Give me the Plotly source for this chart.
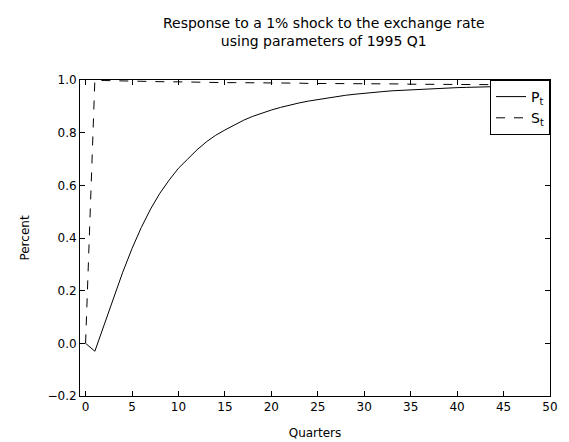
import plotly.graph_objects as go

quarters = list(range(51))
p_t = [0.0, -0.03, 0.07, 0.17, 0.27, 0.36, 0.44, 0.51, 0.57, 0.62, 0.665,
       0.70, 0.735, 0.765, 0.79, 0.81, 0.83, 0.847, 0.862, 0.875, 0.886,
       0.896, 0.905, 0.913, 0.92, 0.926, 0.932, 0.937, 0.942, 0.946, 0.95,
       0.953, 0.956, 0.959, 0.961, 0.963, 0.965, 0.967, 0.969, 0.970, 0.971,
       0.972, 0.973, 0.974, 0.975, 0.976, 0.977, 0.978, 0.978, 0.979, 0.98]
s_t = [0.0, 1.0, 0.998, 0.997, 0.996, 0.995, 0.995, 0.994, 0.994, 0.993, 0.993,
       0.992, 0.992, 0.991, 0.991, 0.990, 0.990, 0.990, 0.989, 0.989, 0.989,
       0.988, 0.988, 0.988, 0.987, 0.987, 0.987, 0.986, 0.986, 0.986, 0.986,
       0.985, 0.985, 0.985, 0.985, 0.984, 0.984, 0.984, 0.984, 0.983, 0.983,
       0.983, 0.983, 0.982, 0.982, 0.982, 0.982, 0.981, 0.981, 0.981, 0.981]

fig = go.Figure()
fig.add_trace(go.Scatter(x=quarters, y=p_t, mode="lines", name="P<sub>t</sub>",
                         line=dict(color="black", width=1)))
fig.add_trace(go.Scatter(x=quarters, y=s_t, mode="lines", name="S<sub>t</sub>",
                         line=dict(color="black", width=1, dash="dash")))

axis = dict(showgrid=False, zeroline=False, showline=True, linecolor="black",
            linewidth=1, mirror="ticks", ticks="inside", ticklen=5,
            tickcolor="black", tickfont=dict(size=12, color="black"))
fig.update_xaxes(range=[-0.6, 50], dtick=5, title=dict(text="Quarters", font=dict(size=12)), **axis)
fig.update_yaxes(range=[-0.2, 1.0], dtick=0.2, tickformat=".1f",
                 title=dict(text="Percent", font=dict(size=12)), **axis)
fig.update_layout(
    width=569, height=442, plot_bgcolor="white", paper_bgcolor="white",
    font=dict(family="DejaVu Sans", color="black"),
    title=dict(text="Response to a 1% shock to the exchange rate<br>using parameters of 1995 Q1",
               x=0.555, xanchor="center", y=0.955, font=dict(size=14)),
    margin=dict(l=72, r=27, t=72, b=44),
    legend=dict(x=1, xanchor="right", y=1, yanchor="top", bordercolor="black",
                borderwidth=1, bgcolor="white", font=dict(size=14)),
)
fig.write_html("out.html")
